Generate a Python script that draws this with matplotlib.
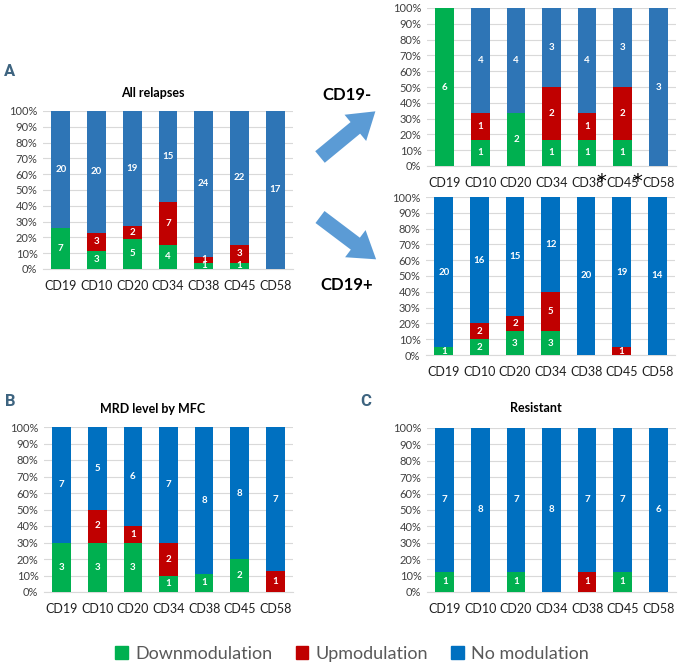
import matplotlib.pyplot as plt
import numpy as np
from matplotlib.patches import Patch, FancyArrow

plt.rcParams['font.family'] = ['Lato', 'DejaVu Sans']

markers = ["CD19", "CD10", "CD20", "CD34", "CD38", "CD45", "CD58"]

# counts per panel: down-, up-, no modulation
all_down = [7, 3, 5, 4, 1, 1, 0]
all_up = [0, 3, 2, 7, 1, 3, 0]
all_no = [20, 20, 19, 15, 24, 22, 17]

neg_down = [6, 1, 2, 1, 1, 1, 0]
neg_up = [0, 1, 0, 2, 1, 2, 0]
neg_no = [0, 4, 4, 3, 4, 3, 3]

pos_down = [1, 2, 3, 3, 0, 0, 0]
pos_up = [0, 2, 2, 5, 0, 1, 0]
pos_no = [20, 16, 15, 12, 20, 19, 14]

mrd_down = [3, 3, 3, 1, 1, 2, 0]
mrd_up = [0, 2, 1, 2, 0, 0, 1]
mrd_no = [7, 5, 6, 7, 8, 8, 7]

res_down = [1, 0, 1, 0, 0, 1, 0]
res_up = [0, 0, 0, 0, 1, 0, 0]
res_no = [7, 8, 7, 8, 7, 7, 6]

GREEN = "#00B050"
RED = "#C00000"
BLUE1 = "#2E75B6"
BLUE2 = "#0070C0"

W, H = 684, 668
fig = plt.figure(figsize=(W / 100, H / 100), dpi=100)


def px_axes(x0, x1, ytop, ybot):
    return fig.add_axes([x0 / W, 1 - ybot / H, (x1 - x0) / W, (ybot - ytop) / H])


def stacked(ax, down, up, no, blue):
    down = np.array(down, float)
    up = np.array(up, float)
    no = np.array(no, float)
    tot = down + up + no
    x = np.arange(len(markers))
    bw = 0.53
    parts = [(down / tot, down, GREEN), (up / tot, up, RED), (no / tot, no, blue)]
    bottom = np.zeros(len(x))
    for frac, cnt, col in parts:
        ax.bar(x, frac, bw, bottom=bottom, color=col, zorder=3)
        for i in range(len(x)):
            if cnt[i] > 0:
                ax.text(x[i], bottom[i] + frac[i] / 2, "%d" % cnt[i], ha="center", va="center",
                        color="white", fontsize=7, fontweight="bold", zorder=4)
        bottom += frac
    ax.set_xlim(-0.5, len(x) - 0.5)
    ax.set_ylim(0, 1)
    ax.set_yticks(np.arange(0, 1.01, 0.1))
    ax.set_yticklabels(["%d%%" % v for v in range(0, 101, 10)], fontsize=8, color="#404040")
    ax.set_xticks(x)
    ax.set_xticklabels(markers, fontsize=9, color="#202020")
    ax.tick_params(length=0, pad=4)
    ax.tick_params(axis="x", pad=8)
    ax.yaxis.grid(True, color="#D9D9D9", lw=0.8, zorder=0)
    for s in ["top", "right", "left"]:
        ax.spines[s].set_visible(False)
    ax.spines["bottom"].set_color("#D9D9D9")
    return ax


axA = px_axes(43, 293, 111, 269)
stacked(axA, all_down, all_up, all_no, BLUE1)
axN = px_axes(427, 676, 8, 166)
stacked(axN, neg_down, neg_up, neg_no, BLUE1)
axP = px_axes(426, 675, 197, 355)
stacked(axP, pos_down, pos_up, pos_no, BLUE2)
axB = px_axes(44, 293, 427, 592)
stacked(axB, mrd_down, mrd_up, mrd_no, BLUE2)
axC = px_axes(427, 676, 428, 592)
stacked(axC, res_down, res_up, res_no, BLUE2)

# asterisks on CD38 and CD45 of the CD19- panel
for i in (4, 5):
    axN.text(i + 0.4, -0.095, "*", transform=axN.get_xaxis_transform(), fontsize=14,
             ha="center", va="center", color="black", family=["DejaVu Sans"])

# overlay for titles, letters and arrows
ov = fig.add_axes([0, 0, 1, 1], zorder=-1)
ov.set_xlim(0, W)
ov.set_ylim(H, 0)
ov.axis("off")

ov.text(153, 93, "All relapses", ha="center", va="center", fontsize=9, fontweight="bold")
ov.text(153, 409, "MRD level by MFC", ha="center", va="center", fontsize=9, fontweight="bold")
ov.text(536, 408, "Resistant", ha="center", va="center", fontsize=9, fontweight="bold")
for lx, ly, t in [(10, 72, "A"), (10, 402, "B"), (366, 402, "C")]:
    ov.text(lx, ly, t, ha="center", va="center", fontsize=12, color="#3E6480",
            fontweight="bold", family=["Roboto", "DejaVu Sans"], fontstretch="condensed")

ov.text(347, 95, "CD19-", ha="center", va="center", fontsize=12, fontweight="bold")
ov.text(347, 285, "CD19+", ha="center", va="center", fontsize=12, fontweight="bold")

ov.add_patch(FancyArrow(320, 157, 57 * 0.62, -47 * 0.62, width=15, head_width=34,
                        head_length=26, length_includes_head=False, color="#5B9BD5", lw=0))
ov.add_patch(FancyArrow(320, 217, 57 * 0.62, 43 * 0.62, width=15, head_width=34,
                        head_length=26, length_includes_head=False, color="#5B9BD5", lw=0))

handles = [Patch(color=GREEN, label="Downmodulation"),
           Patch(color=RED, label="Upmodulation"),
           Patch(color=BLUE2, label="No modulation")]
fig.legend(handles=handles, loc="center", bbox_to_anchor=(352 / W, 1 - 654 / H), ncol=3,
           frameon=False, fontsize=13, handlelength=0.7, handleheight=0.7,
           handletextpad=0.4, columnspacing=1.3, labelcolor="#595959")

fig.savefig("out.png", dpi=100)
